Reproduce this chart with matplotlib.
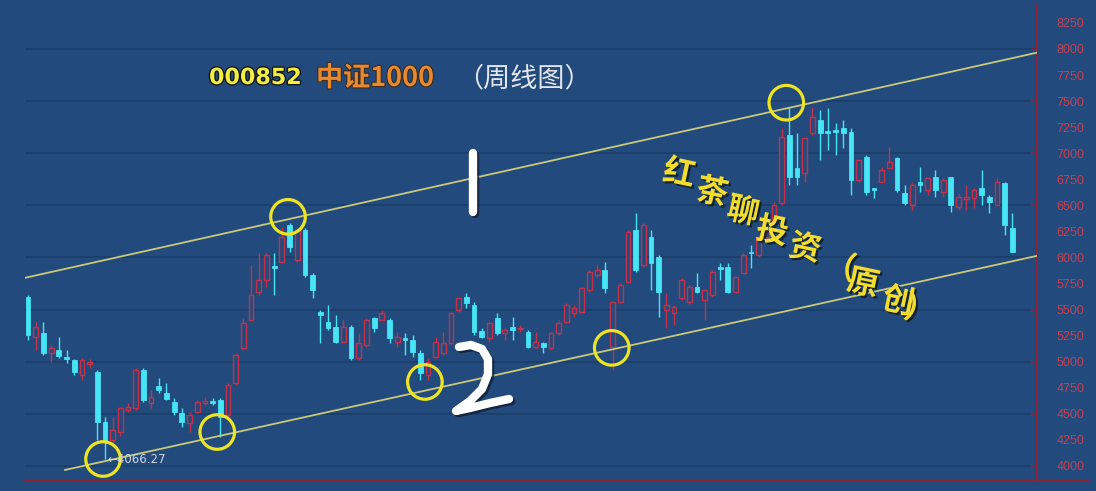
import numpy as np
import matplotlib
matplotlib.use("Agg")
import matplotlib.pyplot as plt
from matplotlib.lines import Line2D
from matplotlib.ticker import FixedLocator, FormatStrFormatter
import matplotlib.patheffects as pe

# weekly candles: open, high, low, close
opens = [5622, 5238, 5277, 5085, 5114, 5046, 5018, 4874, 4979, 4902,
         4422, 4250, 4326, 4538, 4557, 4922, 4605, 4768, 4701, 4614,
         4509, 4413, 4518, 4605, 4624, 4634, 4490, 4797, 5133, 5402,
         5670, 5786, 5920, 5958, 6314, 5978, 6266, 5834, 5478, 5382,
         5334, 5190, 5334, 5037, 5162, 5421, 5402, 5402, 5190, 5229,
         5210, 5085, 4874, 5046, 5085, 5181, 5498, 5622, 5546, 5296,
         5229, 5421, 5277, 5334, 5315, 5286, 5142, 5181, 5133, 5277,
         5382, 5469, 5478, 5690, 5834, 5882, 5142, 5574, 5766, 6266,
         5930, 6198, 6006, 5498, 5469, 5613, 5574, 5718, 5594, 5642,
         5910, 5910, 5670, 5853, 6054, 6026, 6198, 6362, 6525, 7178,
         6861, 6813, 7197, 7322, 7216, 7226, 7245, 7206, 6746, 6966,
         6669, 6726, 6861, 6957, 6621, 6506, 6726, 6650, 6774, 6630,
         6774, 6486, 6563, 6573, 6669, 6582, 6506, 6717, 6285]
highs = [5642, 5382, 5382, 5162, 5238, 5114, 5027, 5037, 5027, 4922,
         4470, 4470, 4566, 4605, 4941, 4941, 4730, 4845, 4797, 4653,
         4557, 4518, 4634, 4662, 4653, 4653, 4797, 5085, 5421, 5930,
         6045, 6045, 6045, 6294, 6333, 6285, 6285, 5853, 5498, 5546,
         5450, 5402, 5354, 5277, 5421, 5430, 5498, 5421, 5286, 5277,
         5258, 5114, 5037, 5238, 5286, 5478, 5622, 5661, 5574, 5325,
         5382, 5469, 5325, 5430, 5354, 5306, 5286, 5190, 5286, 5402,
         5565, 5546, 5718, 5882, 5930, 5958, 5574, 5757, 6266, 6429,
         6333, 6266, 6026, 5661, 5546, 5805, 5738, 5853, 5700, 5882,
         5949, 5949, 5814, 6045, 6122, 6218, 6362, 6534, 7245, 7446,
         7197, 7149, 7446, 7418, 7437, 7293, 7322, 7245, 6938, 6986,
         6669, 6870, 7062, 6966, 6698, 6726, 6870, 6774, 6842, 6765,
         6774, 6621, 6698, 6669, 6842, 6602, 6765, 6726, 6429]
lows = [5210, 5114, 5066, 4998, 5037, 4989, 4874, 4826, 4941, 4250,
        4066.27, 4221, 4288, 4518, 4538, 4614, 4557, 4701, 4634, 4490,
        4374, 4326, 4509, 4586, 4586, 4278, 4470, 4778, 5114, 5402,
        5642, 5718, 5642, 5949, 6054, 5958, 5814, 5613, 5181, 5306,
        5181, 5181, 5018, 5018, 5142, 5286, 5402, 5181, 5142, 5066,
        5046, 4826, 4826, 5037, 5066, 5162, 5478, 5517, 5258, 5229,
        5190, 5258, 5210, 5210, 5286, 5133, 5133, 5085, 5114, 5258,
        5373, 5430, 5469, 5670, 5814, 5661, 4922, 5565, 5757, 5862,
        5910, 5690, 5430, 5325, 5354, 5594, 5555, 5661, 5402, 5622,
        5786, 5661, 5661, 5853, 5901, 6006, 6189, 6342, 6506, 6698,
        6698, 6726, 7178, 6938, 7034, 6986, 7053, 6602, 6726, 6602,
        6573, 6726, 6861, 6630, 6506, 6458, 6630, 6602, 6582, 6582,
        6438, 6458, 6458, 6477, 6506, 6429, 6506, 6218, 6054]
closes = [5258, 5334, 5085, 5133, 5056, 5027, 4902, 5018, 4998, 4422,
          4230, 4346, 4557, 4566, 4922, 4634, 4662, 4730, 4643, 4518,
          4422, 4490, 4614, 4624, 4605, 4470, 4778, 5066, 5373, 5642,
          5786, 6026, 5901, 6198, 6102, 6266, 5834, 5690, 5450, 5325,
          5190, 5334, 5037, 5181, 5402, 5325, 5469, 5229, 5238, 5210,
          5094, 4893, 4998, 5190, 5181, 5469, 5613, 5565, 5286, 5238,
          5373, 5277, 5306, 5306, 5325, 5142, 5190, 5142, 5277, 5373,
          5546, 5517, 5709, 5862, 5882, 5709, 5574, 5738, 6246, 5882,
          6314, 5949, 5670, 5546, 5526, 5786, 5718, 5670, 5690, 5862,
          5891, 5670, 5814, 6026, 6045, 6198, 6342, 6506, 7158, 6774,
          6774, 7149, 7350, 7197, 7197, 7206, 7197, 6746, 6938, 6630,
          6650, 6842, 6918, 6650, 6525, 6698, 6698, 6765, 6650, 6746,
          6506, 6582, 6582, 6650, 6602, 6534, 6726, 6314, 6054]

price_ticks = list(range(4000, 8001, 500))
price_ticks_mid = list(range(4250, 8251, 500))

# channel lines (candle index, price)
upper_channel = [(-0.4, 5805), (131.2, 7965)]
lower_channel = [(4.8, 3962), (131.2, 6016)]

# yellow circles where price touches the channel
touch_idx = [9.75, 24.6, 33.8, 51.6, 75.9, 98.6]
touch_price = [4067, 4326, 6390, 4806, 5133, 7485]

BG = "#224a7c"
GRID = "#1c406d"
AXRED = "#8c2438"
RED = "#c2324a"
CYAN = "#46e4f4"
W, H = 1096, 491

plt.rcParams["font.family"] = ["Noto Sans CJK SC", "DejaVu Sans"]

fig = plt.figure(figsize=(W / 100, H / 100), dpi=100)
fig.patch.set_facecolor(BG)
ax = fig.add_axes([25 / W, 10 / H, 1012 / W, 476 / H])
ax.set_facecolor(BG)

o = np.array(opens, float)
hi = np.array(highs, float)
lo = np.array(lows, float)
c = np.array(closes, float)
x = np.arange(len(o))
up = c >= o
top = np.maximum(o, c)
bot = np.minimum(o, c)
height = np.maximum(top - bot, 12)
bw = 0.62

# cyan (down) candles
ax.vlines(x[~up], lo[~up], hi[~up], color=CYAN, lw=1, zorder=3)
ax.bar(x[~up], height[~up], bottom=bot[~up], width=bw, color=CYAN,
       edgecolor=CYAN, lw=0.6, zorder=4)
# red (up) candles, hollow
ax.vlines(x[up], top[up], hi[up], color=RED, lw=1, zorder=3)
ax.vlines(x[up], lo[up], bot[up], color=RED, lw=1, zorder=3)
ax.bar(x[up], height[up], bottom=bot[up], width=bw, facecolor=BG,
       edgecolor=RED, lw=1, zorder=4)

# channel
for line in (upper_channel, lower_channel):
    ax.plot([p[0] for p in line], [p[1] for p in line], color="#c9c97c",
            lw=1.3, zorder=5)

ax.scatter(touch_idx, touch_price, s=620, facecolors="none",
           edgecolors="#ece424", linewidths=2.3, zorder=6)

# lowest point label
imin = int(np.argmin(lo))
ax.annotate("\u2190" + "%.2f" % lo[imin], (imin, lo[imin]),
            xytext=(1.5, 0), textcoords="offset points", color="#d0d6e0",
            fontsize=8.5, va="center", ha="left", family="DejaVu Sans",
            zorder=7)

ax.set_xlim(-0.4, 131.2)
ax.set_ylim(3856, 8422)
ax.set_xticks([])
ax.yaxis.tick_right()
ax.yaxis.set_major_locator(FixedLocator(price_ticks))
ax.yaxis.set_minor_locator(FixedLocator(price_ticks_mid))
ax.yaxis.set_major_formatter(FormatStrFormatter("%d"))
ax.yaxis.set_minor_formatter(FormatStrFormatter("%d"))
ax.tick_params(axis="y", which="major", direction="in", length=4, width=1.2,
               color=AXRED, labelcolor="#c8404f", labelsize=9, pad=14)
ax.tick_params(axis="y", which="minor", length=0, labelcolor="#c8404f",
               labelsize=9, pad=14)
for t in ax.yaxis.get_ticklabels(which="both"):
    t.set_family("Liberation Sans")
ax.grid(axis="y", which="major", color=GRID, lw=1.4, zorder=0)
for s in ("left", "top"):
    ax.spines[s].set_visible(False)
for s in ("right", "bottom"):
    ax.spines[s].set_color(AXRED)
    ax.spines[s].set_linewidth(1.5)
ax.plot([1, 1.05], [0, 0], transform=ax.transAxes, color=AXRED, lw=1.5,
        clip_on=False)

# title
def fx(px):
    return px / W

def fy(py):
    return 1 - py / H

fig.text(fx(209), fy(78), "000852", color="#f2ee44", fontsize=16,
         weight="bold", va="center", family="DejaVu Sans",
         path_effects=[pe.withStroke(linewidth=2, foreground="#181818")])
fig.text(fx(316), fy(78), "中证1000", color="#e8892e", fontsize=19.5,
         weight="bold", va="center",
         path_effects=[pe.withStroke(linewidth=1.5, foreground="#3a2a20")])
fig.text(fx(456), fy(79), "（周线图）", color="#e2e6ec", fontsize=19.5,
         va="center")

# watermark
wm_chars = list("红茶聊投资（原创）")
wm_pos = [(679, 174), (712, 193), (743, 212), (772, 232), (805, 249),
          (840, 268), (863, 284), (898, 302), (920, 311)]
for ch, (px_, py_) in zip(wm_chars, wm_pos):
    fig.text(fx(px_), fy(py_), ch, color="#f2dc30", fontsize=23,
             weight="bold", ha="center", va="center", rotation=-12,
             path_effects=[pe.withSimplePatchShadow(offset=(1.5, -1.5),
                                                    shadow_rgbFace="#101820",
                                                    alpha=0.8)])

# hand drawn 1 and 2
one = [(473, 153), (473, 212)]
two = [(459, 347), (471, 345), (482, 349), (488, 359), (488, 374),
       (482, 389), (470, 401), (456, 411), (470, 408), (490, 403),
       (509, 399)]
for stroke in (one, two):
    fig.add_artist(Line2D([fx(p[0]) for p in stroke],
                          [fy(p[1]) for p in stroke],
                          transform=fig.transFigure, color="white", lw=6,
                          solid_capstyle="round", solid_joinstyle="round",
                          path_effects=[pe.SimpleLineShadow(offset=(1.5, -1.5),
                                                            shadow_color="#0c1828",
                                                            alpha=0.7),
                                        pe.Normal()]))

fig.savefig("out.png", dpi=100, facecolor=BG)
